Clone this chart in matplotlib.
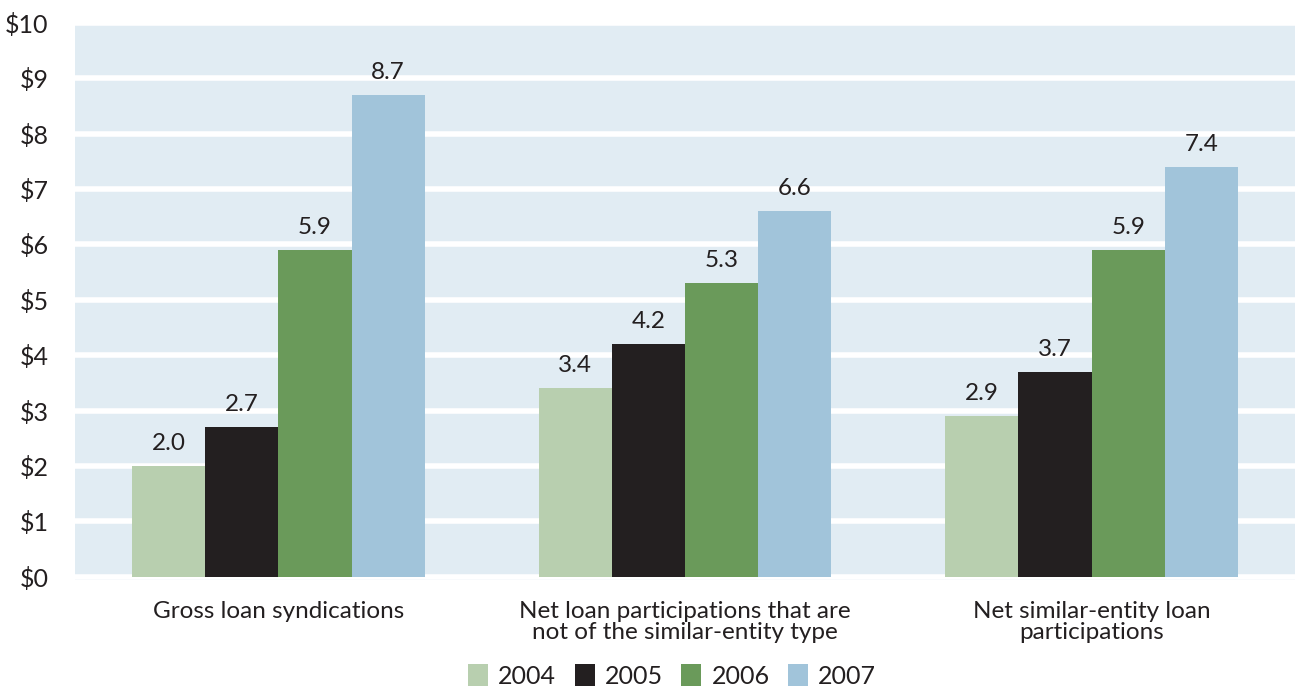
import matplotlib.pyplot as plt
import numpy as np

categories = ["Gross loan syndications",
              "Net loan participations that are\nnot of the similar-entity type",
              "Net similar-entity loan\nparticipations"]
years = ["2004", "2005", "2006", "2007"]
v2004 = [2.0, 3.4, 2.9]
v2005 = [2.7, 4.2, 3.7]
v2006 = [5.9, 5.3, 5.9]
v2007 = [8.7, 6.6, 7.4]
yticks = [0, 1, 2, 3, 4, 5, 6, 7, 8, 9, 10]

colors = ["#B8CFAF", "#231F20", "#6A9A5A", "#A1C4DA"]
series = [v2004, v2005, v2006, v2007]

plt.rcParams['font.family'] = ['Lato', 'DejaVu Sans']

fig = plt.figure(figsize=(12.95, 6.89), dpi=100)
ax = fig.add_axes([75 / 1295, 1 - 580 / 689, 1220 / 1295, (580 - 23) / 689])
ax.set_facecolor("#E1ECF3")

x = np.arange(len(categories))
w = 0.18
for i, (vals, c, yr) in enumerate(zip(series, colors, years)):
    pos = x + (i - 1.5) * w
    ax.bar(pos, vals, width=w, color=c, label=yr, zorder=3)
    for px, v in zip(pos, vals):
        ax.text(px, v + 0.41, f"{v:.1f}", ha="center", va="center",
                fontsize=17.5, color="#231F20")

ax.set_xlim(-0.5, 2.5)
ax.set_ylim(-0.06, 10)
ax.set_yticks(yticks)
ax.set_yticklabels([f"${t}" for t in yticks], fontsize=18, color="#231F20")
ax.grid(axis="y", color="white", linewidth=4, zorder=1)
ax.set_xticks(x)
ax.set_xticklabels(categories, fontsize=17.5, color="#231F20", linespacing=1.0)
ax.tick_params(length=0, pad=15)
ax.tick_params(axis="y", pad=19)
for s in ax.spines.values():
    s.set_visible(False)

fig.legend(loc="lower center", bbox_to_anchor=(0.519, -0.031), ncol=4, frameon=False,
           fontsize=18, handlelength=0.8, handleheight=1.0, handletextpad=0.4,
           columnspacing=0.75, labelcolor="#231F20")

fig.savefig("out.png", dpi=100)
